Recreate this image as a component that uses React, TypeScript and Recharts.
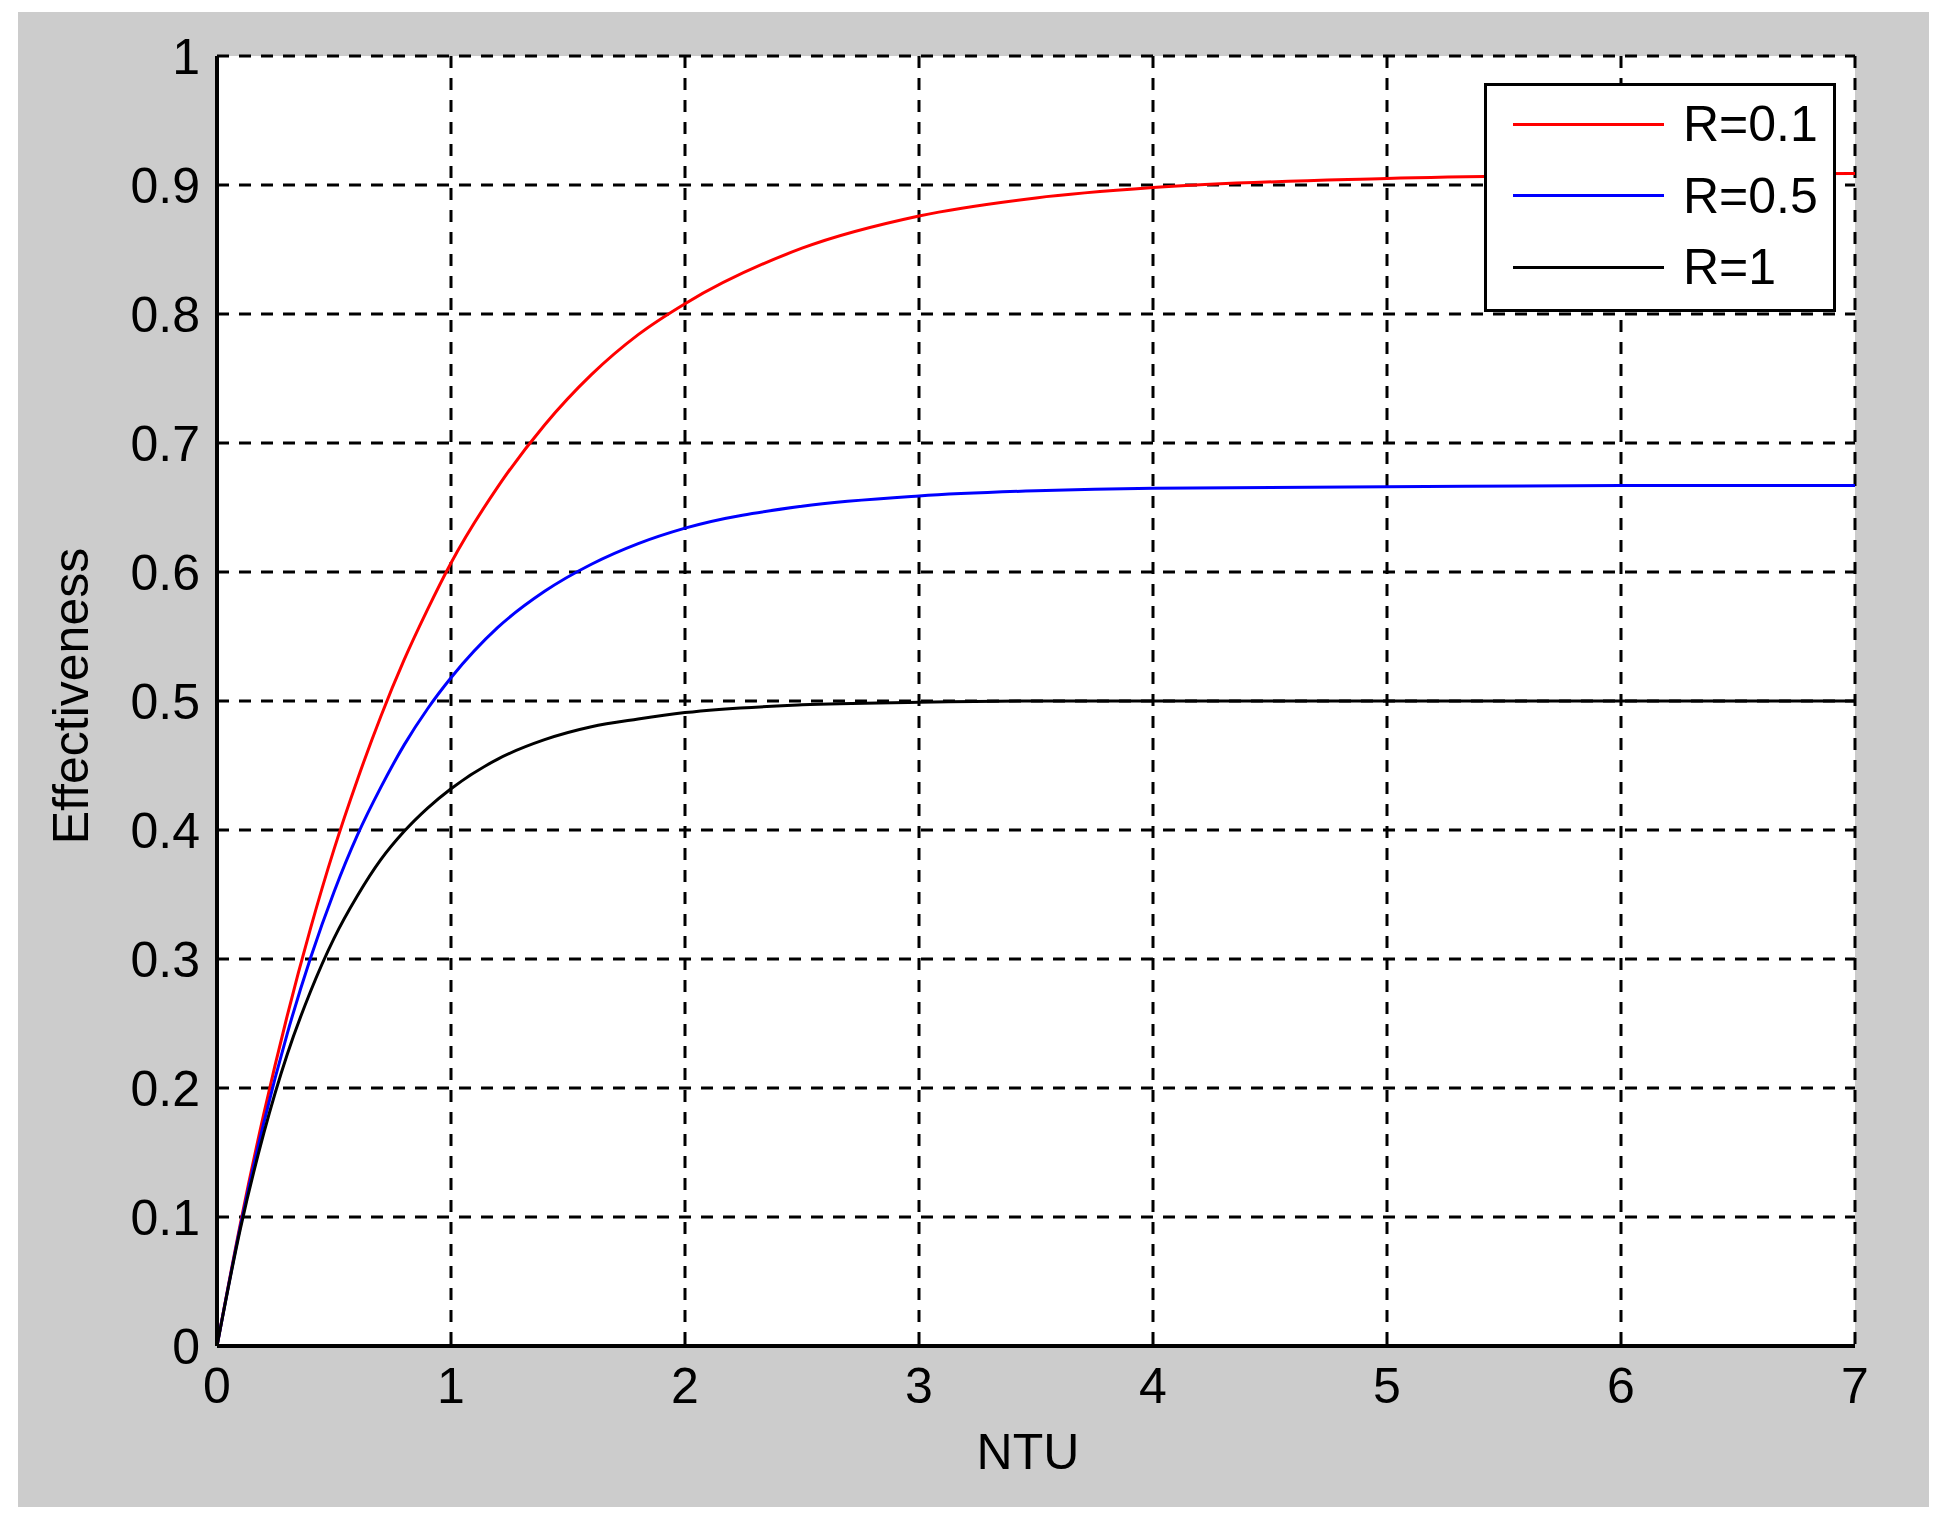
import React from 'react';
import { LineChart, Line, XAxis, YAxis, CartesianGrid, Legend } from 'recharts';

// NTU sample points
const ntu = [0, 0.1, 0.2, 0.3, 0.4, 0.5, 0.6, 0.7, 0.8, 0.9, 1, 1.2, 1.4, 1.6, 1.8, 2, 2.5, 3, 3.5, 4, 5, 6, 7];
const effR01 = [0, 0.095, 0.18, 0.256, 0.324, 0.385, 0.439, 0.488, 0.532, 0.571, 0.607, 0.666, 0.714, 0.753, 0.784, 0.808, 0.851, 0.876, 0.89, 0.898, 0.905, 0.908, 0.909];
const effR05 = [0, 0.093, 0.173, 0.242, 0.301, 0.352, 0.396, 0.433, 0.466, 0.494, 0.518, 0.557, 0.585, 0.606, 0.622, 0.634, 0.651, 0.659, 0.663, 0.665, 0.666, 0.667, 0.667];
const effR1 = [0, 0.091, 0.165, 0.226, 0.275, 0.316, 0.349, 0.377, 0.399, 0.417, 0.432, 0.455, 0.47, 0.48, 0.486, 0.491, 0.497, 0.499, 0.5, 0.5, 0.5, 0.5, 0.5];

const xTicks = [0, 1, 2, 3, 4, 5, 6, 7];
const yTicks = [0, 0.1, 0.2, 0.3, 0.4, 0.5, 0.6, 0.7, 0.8, 0.9, 1];

const data = ntu.map((x, i) => ({ ntu: x, r01: effR01[i], r05: effR05[i], r1: effR1[i] }));

const FONT = '"Liberation Sans", Arial, sans-serif';

const renderLegend = (props: any) => {
    const { payload } = props;
    return (
        <div
            style={{
                position: 'relative',
                width: 352,
                height: 229,
                boxSizing: 'border-box',
                border: '3px solid #000',
                background: '#fff',
                fontFamily: FONT,
            }}
        >
            {(payload || []).map((entry: any, i: number) => (
                <div key={i} style={{ position: 'absolute', left: 0, top: 38 + i * 71.5, width: '100%', height: 0 }}>
                    <div style={{ position: 'absolute', left: 26, top: -1.5, width: 151, height: 3, background: entry.color }} />
                    <span
                        style={{
                            position: 'absolute',
                            left: 196,
                            top: -29,
                            fontSize: 50,
                            lineHeight: '58px',
                            color: '#000',
                            whiteSpace: 'nowrap',
                        }}
                    >
                        {entry.value}
                    </span>
                </div>
            ))}
        </div>
    );
};

const XTitle = (props: any) => {
    const vb = props.viewBox;
    return (
        <text x={vb.x + vb.width / 2 - 8} y={vb.y + 123} textAnchor="middle" fontSize={50} fontFamily={FONT} fill="#000">
            NTU
        </text>
    );
};

const YTitle = (props: any) => {
    const vb = props.viewBox;
    const cx = vb.x + 71;
    const cy = vb.y + vb.height / 2 - 5;
    return (
        <text
            x={cx}
            y={cy}
            textAnchor="middle"
            dominantBaseline="central"
            transform={`rotate(-90 ${cx} ${cy})`}
            fontSize={50}
            fontFamily={FONT}
            fill="#000"
        >
            Effectiveness
        </text>
    );
};

export default function App() {
    return (
        <div style={{ position: 'absolute', left: 0, top: 0, width: 1948, height: 1533, background: '#fff' }}>
            <div style={{ position: 'absolute', left: 18, top: 12, width: 1911, height: 1495, background: '#cccccc' }} />
            <div style={{ position: 'absolute', left: 0, top: 0 }}>
                <LineChart width={1948} height={1533} data={data} margin={{ top: 56, right: 93, bottom: 0, left: 0 }}>
                    <CartesianGrid
                        stroke="#000"
                        strokeWidth={3}
                        strokeDasharray="12 10"
                        fill="#fff"
                        fillOpacity={1}
                    />
                    <XAxis
                        dataKey="ntu"
                        type="number"
                        domain={[0, 7]}
                        ticks={xTicks}
                        height={187}
                        tickSize={0}
                        tickMargin={21}
                        axisLine={{ stroke: '#000', strokeWidth: 4 }}
                        tick={{ fill: '#000', fontSize: 50, fontFamily: FONT }}
                        label={XTitle}
                    />
                    <YAxis
                        type="number"
                        domain={[0, 1]}
                        ticks={yTicks}
                        width={217}
                        tickSize={0}
                        tickMargin={17}
                        axisLine={{ stroke: '#000', strokeWidth: 4 }}
                        tick={{ fill: '#000', fontSize: 50, fontFamily: FONT }}
                        label={YTitle}
                    />
                    <Line type="monotone" dataKey="r01" name="R=0.1" stroke="#ff0000" strokeWidth={3} dot={false} isAnimationActive={false} />
                    <Line type="monotone" dataKey="r05" name="R=0.5" stroke="#0000ff" strokeWidth={3} dot={false} isAnimationActive={false} />
                    <Line type="monotone" dataKey="r1" name="R=1" stroke="#000000" strokeWidth={3} dot={false} isAnimationActive={false} />
                    <Legend
                        verticalAlign="middle"
                        content={renderLegend}
                        wrapperStyle={{ left: 1484, top: 83, width: 352, height: 229, bottom: 'auto', right: 'auto' }}
                    />
                </LineChart>
            </div>
        </div>
    );
}
